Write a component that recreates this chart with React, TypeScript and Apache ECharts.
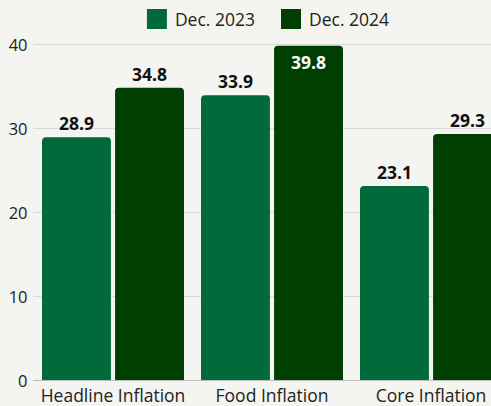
import React, { useEffect, useRef } from "react";
import * as echarts from "echarts";

const categories = ["Headline Inflation", "Food Inflation", "Core Inflation"];
const dec2023 = [28.9, 33.9, 23.1];
const dec2024 = [34.8, 39.8, 29.3];
const seriesNames = ["Dec. 2023", "Dec. 2024"];
const yTicks = { min: 0, max: 40, interval: 10 };

export default function App() {
  const ref = useRef<HTMLDivElement>(null);
  useEffect(() => {
    const chart = echarts.init(ref.current!, null, { renderer: "svg" });
    const font = "'Open Sans', 'Noto Sans', sans-serif";
    const labelStyle = {
      show: true,
      position: "top" as const,
      fontWeight: "bold" as const,
      fontSize: 17.5,
      color: "#111",
      fontFamily: font,
      distance: 5,
    };
    chart.setOption({
      animation: false,
      backgroundColor: "#f4f4f0",
      textStyle: { fontFamily: font },
      legend: {
        data: seriesNames,
        top: 4,
        left: "center",
        itemWidth: 20,
        itemHeight: 20,
        itemGap: 26,
        icon: "rect",
        textStyle: { fontSize: 17.5, color: "#222", fontFamily: font, padding: [0, 0, 0, 3] },
      },
      grid: { left: 33.5, right: 25.5, top: 44, bottom: 26 },
      xAxis: {
        type: "category",
        data: categories,
        axisTick: { show: false },
        axisLine: { show: true, lineStyle: { color: "#bbbbbb" } },
        axisLabel: { fontSize: 17.5, color: "#222", margin: 6, interval: 0, fontFamily: font },
      },
      yAxis: {
        type: "value",
        min: yTicks.min,
        max: yTicks.max,
        interval: yTicks.interval,
        axisLabel: { fontSize: 16.5, color: "#222", margin: 6, fontFamily: font },
        splitLine: { lineStyle: { color: "#d9d9d6" } },
      },
      series: [
        {
          name: seriesNames[0],
          type: "bar",
          data: dec2023,
          itemStyle: { color: "#006a3b", borderRadius: [4, 4, 0, 0] },
          barGap: "6%",
          barCategoryGap: "10.7%",
          label: labelStyle,
        },
        {
          name: seriesNames[1],
          type: "bar",
          data: dec2024.map((v) =>
            v > 38
              ? {
                  value: v,
                  label: { position: "insideTop", color: "#ffffff", distance: 7 },
                }
              : v
          ),
          itemStyle: { color: "#003f02", borderRadius: [4, 4, 0, 0] },
          barGap: "6%",
          barCategoryGap: "10.7%",
          label: labelStyle,
        },
      ],
    });
    return () => chart.dispose();
  }, []);
  return (
    <div
      style={{
        position: "absolute",
        left: 0,
        top: 0,
        width: 491,
        height: 406,
        overflow: "hidden",
      }}
    >
      <div ref={ref} style={{ width: 536, height: 406 }} />
    </div>
  );
}
